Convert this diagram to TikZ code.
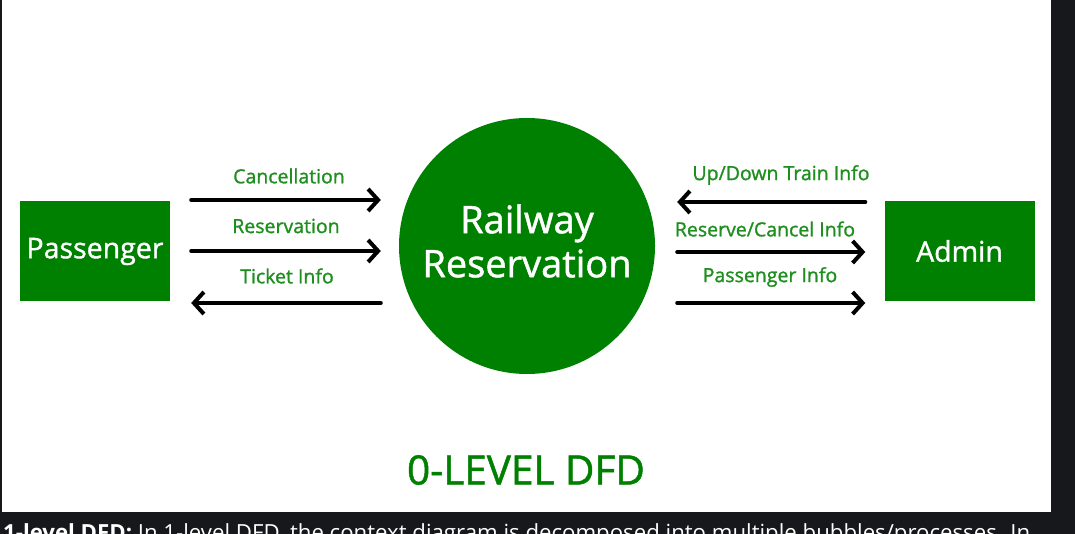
\documentclass[tikz,border=0pt]{standalone}
\usepackage{fontspec}
\setmainfont{Open Sans}
\newfontfamily\diagfont[FakeBold=1.2]{Open Sans}
\usetikzlibrary{arrows.meta,calc}
\definecolor{gfg}{HTML}{008000}
\definecolor{glabel}{HTML}{1E8F1E}
\definecolor{darkbg}{HTML}{17181C}
\tikzset{
  entity/.style={fill=gfg, minimum width=150pt, minimum height=100pt, inner sep=0pt, text=white, font=\diagfont\fontsize{28.5}{30}\selectfont},
  process/.style={circle, fill=gfg, minimum size=256pt, inner sep=0pt},
  proctext/.style={text=white, align=center, inner sep=0pt, font=\diagfont\fontsize{38}{41}\selectfont},
  flow/.style={line width=4pt, line cap=round, -{Straight Barb[length=10pt,width=22pt,line width=4pt]}},
  flowlabel/.style={text=glabel, font=\diagfont\fontsize{19.5}{22}\selectfont, inner sep=0pt}
}
\begin{document}
\begin{tikzpicture}[x=1pt,y=-1pt]
\useasboundingbox (0,0) rectangle (1075,534);
\fill[darkbg] (0,0) rectangle (1075,534);
\fill[white] (2,0) rectangle (1051,512);
\node[entity] (P) at (95,251.5) {Passenger};
\node[entity] (A) at (959.5,251) {Admin};
\node[process] (R) at (527,246) {};
\node[proctext] (Rt) at ([yshift=5pt]R.center) {Railway\\[3pt]Reservation};
% left flows
\draw[flow] ([xshift=21pt,yshift=51.5pt]P.east) -- ([xshift=-18pt,yshift=46pt]R.west);
\draw[flow] ([xshift=21pt,yshift=0.5pt]P.east) -- ([xshift=-18pt,yshift=-5pt]R.west);
\draw[flow] ([xshift=-18pt,yshift=-57pt]R.west) -- ([xshift=21pt,yshift=-51.5pt]P.east);
% right flows
\draw[flow] ([xshift=-19pt,yshift=49pt]A.west) -- ([xshift=22pt,yshift=44pt]R.east);
\draw[flow] ([xshift=22pt,yshift=-6pt]R.east) -- ([xshift=-19pt,yshift=-1pt]A.west);
\draw[flow] ([xshift=22pt,yshift=-57pt]R.east) -- ([xshift=-19pt,yshift=-52pt]A.west);
% labels
\node[flowlabel] (l1) at (289,176) {Cancellation};
\node[flowlabel] (l2) at (286,226) {Reservation};
\node[flowlabel] (l3) at (287,276) {Ticket Info};
\node[flowlabel] (l4) at (781,175) {Up/Down Train Info};
\node[flowlabel] (l5) at (765,229) {Reserve/Cancel Info};
\node[flowlabel] (l6) at (770,277) {Passenger Info};
\node[text=gfg, font=\diagfont\fontsize{40.5}{44}\selectfont, inner sep=0pt] (title) at (526,470) {0-LEVEL DFD};
\begin{scope}
\clip (0,512) rectangle (1075,534);
\node[anchor=base west, text=white, font=\fontsize{22.2}{24}\selectfont, inner sep=0pt] (foot) at (3,540) {\textbf{1-level DFD:} In 1-level DFD, the context diagram is decomposed into multiple bubbles/processes. In};
\end{scope}
\end{tikzpicture}
\end{document}
